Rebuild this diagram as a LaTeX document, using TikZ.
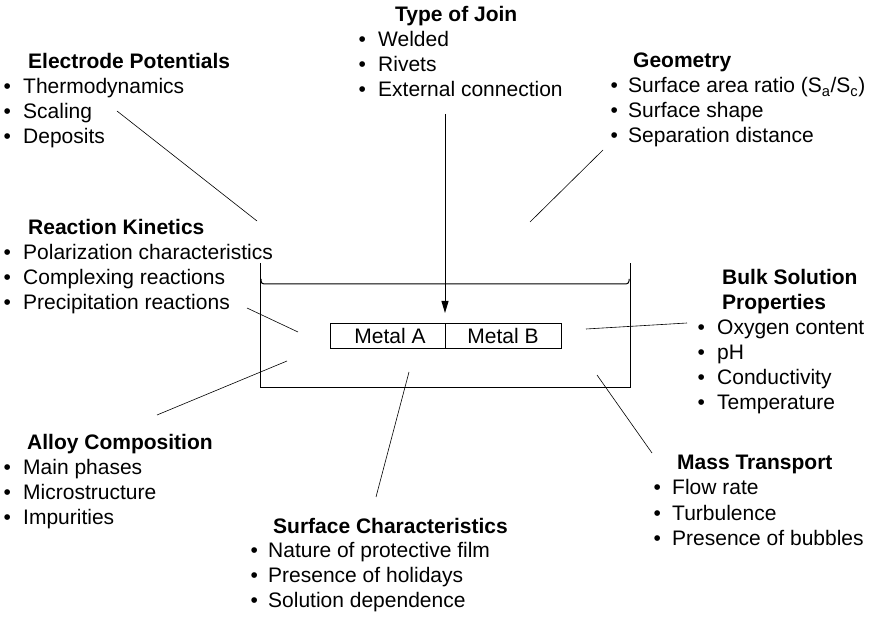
\documentclass[tikz,border=0pt]{standalone}
\usepackage{fontspec}
\setmainfont{Liberation Sans}
\usetikzlibrary{arrows.meta}
\tikzset{
  hd/.style={anchor=base west, inner sep=0pt, font=\bfseries},
  it/.style={anchor=base west, inner sep=0pt},
  metal/.style={draw, line width=0.9pt, minimum height=25pt, inner sep=0pt, font=\fontsize{21}{24}\selectfont},
  lead/.style={line width=0.6pt},
}
\begin{document}
\begin{tikzpicture}[x=1pt,y=-1pt]
\fontsize{21}{25}\selectfont
\useasboundingbox (0,0) rectangle (876,617);
% tank and electrolyte surface
\draw[line width=1pt] (260,263) -- (260,388) -- (630,388) -- (630,263);
\draw[line width=1pt, rounded corners=3pt] (261,279) -- (261,284) -- (629,284) -- (629,279);
\node[metal, minimum width=115pt] (ma) at (387.5,335.5) {\hspace*{5pt}Metal A};
\node[metal, minimum width=116pt] (mb) at (503,335.5) {Metal B};
% type of join
\node[hd] (tj) at (395,22) {Type of Join};
\node[it] at (358.5,47) {\textbullet}; \node[it] (tj1) at (378,47) {Welded};
\node[it] at (358.5,72) {\textbullet}; \node[it] (tj2) at (378,72) {Rivets};
\node[it] at (358.5,97) {\textbullet}; \node[it] (tj3) at (378,97) {External connection};
% electrode potentials
\node[hd] (ep) at (28,69) {Electrode Potentials};
\node[it] at (3.5,94) {\textbullet}; \node[it] (ep1) at (23,94) {Thermodynamics};
\node[it] at (3.5,119) {\textbullet}; \node[it] (ep2) at (23,119) {Scaling};
\node[it] at (3.5,144) {\textbullet}; \node[it] (ep3) at (23,144) {Deposits};
% geometry
\node[hd] (ge) at (633,68) {Geometry};
\node[it] at (610.5,93) {\textbullet}; \node[it] (ge1) at (628,93) {Surface area ratio (S\textsubscript{a}/S\textsubscript{c})};
\node[it] at (610.5,118) {\textbullet}; \node[it] (ge2) at (628,118) {Surface shape};
\node[it] at (610.5,143) {\textbullet}; \node[it] (ge3) at (628,143) {Separation distance};
% reaction kinetics
\node[hd] (rk) at (28,235) {Reaction Kinetics};
\node[it] at (3.5,260) {\textbullet}; \node[it] (rk1) at (23,260) {Polarization characteristics};
\node[it] at (3.5,285) {\textbullet}; \node[it] (rk2) at (23,285) {Complexing reactions};
\node[it] at (3.5,310) {\textbullet}; \node[it] (rk3) at (23,310) {Precipitation reactions};
% bulk solution
\node[hd] (bs) at (722,285) {Bulk Solution};
\node[hd] (bsb) at (722,310) {Properties};
\node[it] at (697.5,335) {\textbullet}; \node[it] (bs1) at (717,335) {Oxygen content};
\node[it] at (697.5,360) {\textbullet}; \node[it] (bs2) at (717,360) {pH};
\node[it] at (697.5,385) {\textbullet}; \node[it] (bs3) at (717,385) {Conductivity};
\node[it] at (697.5,410) {\textbullet}; \node[it] (bs4) at (717,410) {Temperature};
% alloy composition
\node[hd] (ac) at (27,450) {Alloy Composition};
\node[it] at (3.5,475) {\textbullet}; \node[it] (ac1) at (23,475) {Main phases};
\node[it] at (3.5,500) {\textbullet}; \node[it] (ac2) at (23,500) {Microstructure};
\node[it] at (3.5,525) {\textbullet}; \node[it] (ac3) at (23,525) {Impurities};
% mass transport
\node[hd] (mt) at (677,470) {Mass Transport};
\node[it] at (653.5,495) {\textbullet}; \node[it] (mt1) at (672,495) {Flow rate};
\node[it] at (653.5,520) {\textbullet}; \node[it] (mt2) at (672,520) {Turbulence};
\node[it] at (653.5,545) {\textbullet}; \node[it] (mt3) at (672,545) {Presence of bubbles};
% surface characteristics
\node[hd] (sc) at (273,533) {Surface Characteristics};
\node[it] at (250.5,557) {\textbullet}; \node[it] (sc1) at (268,557) {Nature of protective film};
\node[it] at (250.5,582) {\textbullet}; \node[it] (sc2) at (268,582) {Presence of holidays};
\node[it] at (250.5,607) {\textbullet}; \node[it] (sc3) at (268,607) {Solution dependence};
% leader ends
\coordinate (tjs) at (445,114);  \coordinate (tje) at (445,313);
\coordinate (eps) at (117,111);  \coordinate (epe) at (257,221);
\coordinate (ges) at (603,150);  \coordinate (gee) at (530,222);
\coordinate (rks) at (247,308);  \coordinate (rke) at (298,332);
\coordinate (acs) at (157,415);  \coordinate (ace) at (287,361);
\coordinate (scs) at (376,497);  \coordinate (sce) at (409,372);
\coordinate (mts) at (652,453);  \coordinate (mte) at (597,375);
\coordinate (bss) at (687,323);  \coordinate (bse) at (586,329);
\draw[line width=1pt, -{Triangle[length=12pt,width=7pt]}] (tjs) -- (tje);
\draw[lead] (eps) -- (epe);
\draw[lead] (ges) -- (gee);
\draw[lead] (rks) -- (rke);
\draw[lead] (acs) -- (ace);
\draw[lead] (scs) -- (sce);
\draw[lead] (mts) -- (mte);
\draw[lead] (bss) -- (bse);
\end{tikzpicture}
\end{document}
